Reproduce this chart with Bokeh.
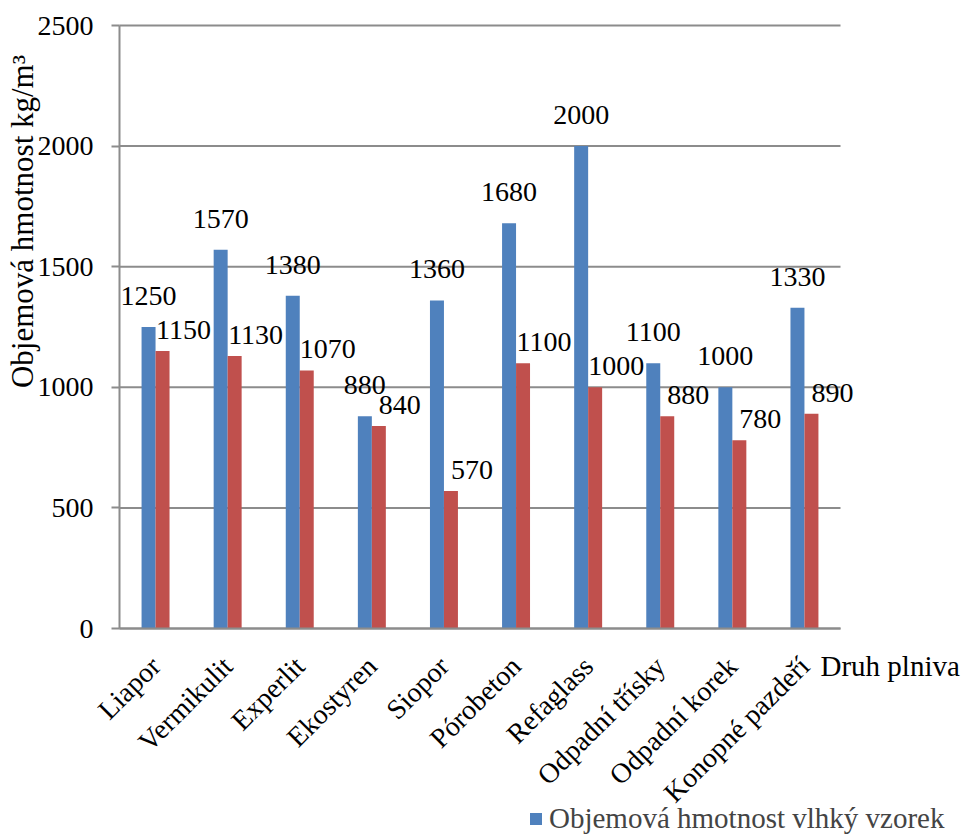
import math
from bokeh.plotting import figure
from bokeh.models import ColumnDataSource, Range1d, FixedTicker, Label, Legend, LegendItem
from bokeh.embed import file_html
from bokeh.resources import INLINE

categories = ["Liapor", "Vermikulit", "Experlit", "Ekostyren", "Siopor", "Pórobeton",
              "Refaglass", "Odpadní třísky", "Odpadní korek", "Konopné pazdeří"]
wet = [1250, 1570, 1380, 880, 1360, 1680, 2000, 1100, 1000, 1330]
dry = [1150, 1130, 1070, 840, 570, 1100, 1000, 880, 780, 890]
wet_name = "Objemová hmotnost vlhký vzorek"
y_title = "Objemová hmotnost kg/m³"
x_title = "Druh plniva"
y_ticks = [0, 500, 1000, 1500, 2000, 2500]

FONT = "Liberation Serif"
FS = "28px"
BLUE = "#4F81BD"
RED = "#C0504D"
GRAY = "#8c8c8c"

n = len(categories)
centers = [i + 0.5 for i in range(n)]
bw = 0.194

# page geometry: plot area 119..840 x 25..628 inside a 964x836 page
W, H = 964, 836
left, right_area, top, bottom_area = 119, 840, 25, 628
px_per_cat = (right_area - left) / n
px_per_unit = (bottom_area - top) / y_ticks[-1]
x_start = -left / px_per_cat
x_end = (W - left) / px_per_cat
y_start = -(H - bottom_area) / px_per_unit
y_end = y_ticks[-1] + top / px_per_unit

src = ColumnDataSource(dict(xw=[c - bw / 2 for c in centers], xd=[c + bw / 2 for c in centers],
                            wet=wet, dry=dry))

p = figure(width=W, height=H, x_range=Range1d(x_start, x_end), y_range=Range1d(y_start, y_end),
           output_backend="svg", toolbar_location=None, min_border=0)
p.outline_line_color = None
p.xgrid.grid_line_color = None
p.ygrid.grid_line_color = None

# horizontal gridlines over the category area only
p.segment(x0=[0] * len(y_ticks), x1=[n] * len(y_ticks), y0=y_ticks, y1=y_ticks,
          line_color=GRAY, line_width=2)

r_wet = p.vbar(x="xw", top="wet", width=bw, source=src, fill_color=BLUE, line_color=None)
r_dry = p.vbar(x="xd", top="dry", width=bw, source=src, fill_color=RED, line_color=None)

for i, (w, d) in enumerate(zip(wet, dry)):
    p.add_layout(Label(x=centers[i] - bw / 2, y=w, text=str(w), text_align="center",
                       text_baseline="bottom", y_offset=22, text_font=FONT,
                       text_font_size=FS, text_color="black"))
    p.add_layout(Label(x=centers[i] + bw / 2, y=d, text=str(d), text_align="center",
                       text_baseline="bottom", x_offset=21, y_offset=12, text_font=FONT,
                       text_font_size=FS, text_color="black"))

# y axis at x = 0
p.yaxis.fixed_location = 0
p.yaxis.ticker = FixedTicker(ticks=y_ticks)
p.yaxis.bounds = (y_ticks[0], y_ticks[-1])
p.yaxis.axis_line_color = GRAY
p.yaxis.axis_line_width = 2
p.yaxis.major_tick_line_color = GRAY
p.yaxis.major_tick_line_width = 2
p.yaxis.major_tick_out = 8
p.yaxis.major_tick_in = 0
p.yaxis.minor_tick_line_color = None
p.yaxis.major_label_standoff = 18
p.yaxis.major_label_text_font = FONT
p.yaxis.major_label_text_font_size = FS
p.yaxis.major_label_text_color = "black"

# x axis (categories) at y = 0
p.xaxis.fixed_location = 0
p.xaxis.ticker = FixedTicker(ticks=centers)
p.xaxis.major_label_overrides = {c: cat for c, cat in zip(centers, categories)}
p.xaxis.bounds = (0, n)
p.xaxis.axis_line_color = GRAY
p.xaxis.axis_line_width = 2
p.xaxis.major_tick_line_color = None
p.xaxis.minor_tick_line_color = None
p.xaxis.major_label_orientation = math.pi / 4
p.xaxis.major_label_standoff = 27
p.xaxis.major_label_text_font = FONT
p.xaxis.major_label_text_font_size = FS
p.xaxis.major_label_text_color = "black"

# axis titles
p.add_layout(Label(x=(22 - left) / px_per_cat, y=(bottom_area - 221) / px_per_unit,
                   text=y_title, angle=math.pi / 2, text_align="center",
                   text_baseline="middle", text_font=FONT, text_font_size="31px",
                   text_color="black"))
p.add_layout(Label(x=(820 - left) / px_per_cat, y=-(665 - bottom_area) / px_per_unit,
                   text=x_title, text_align="left", text_baseline="middle",
                   text_font=FONT, text_font_size="29px", text_color="black"))

legend = Legend(items=[LegendItem(label=wet_name, renderers=[r_wet])],
                location=(528, 1), orientation="vertical",
                glyph_width=15, glyph_height=15, label_standoff=6, padding=0, margin=0,
                label_text_font=FONT, label_text_font_size="29px", label_height=32,
                border_line_color=None, background_fill_alpha=0)
p.add_layout(legend, "center")

open("out.html", "w").write(file_html(p, INLINE))
